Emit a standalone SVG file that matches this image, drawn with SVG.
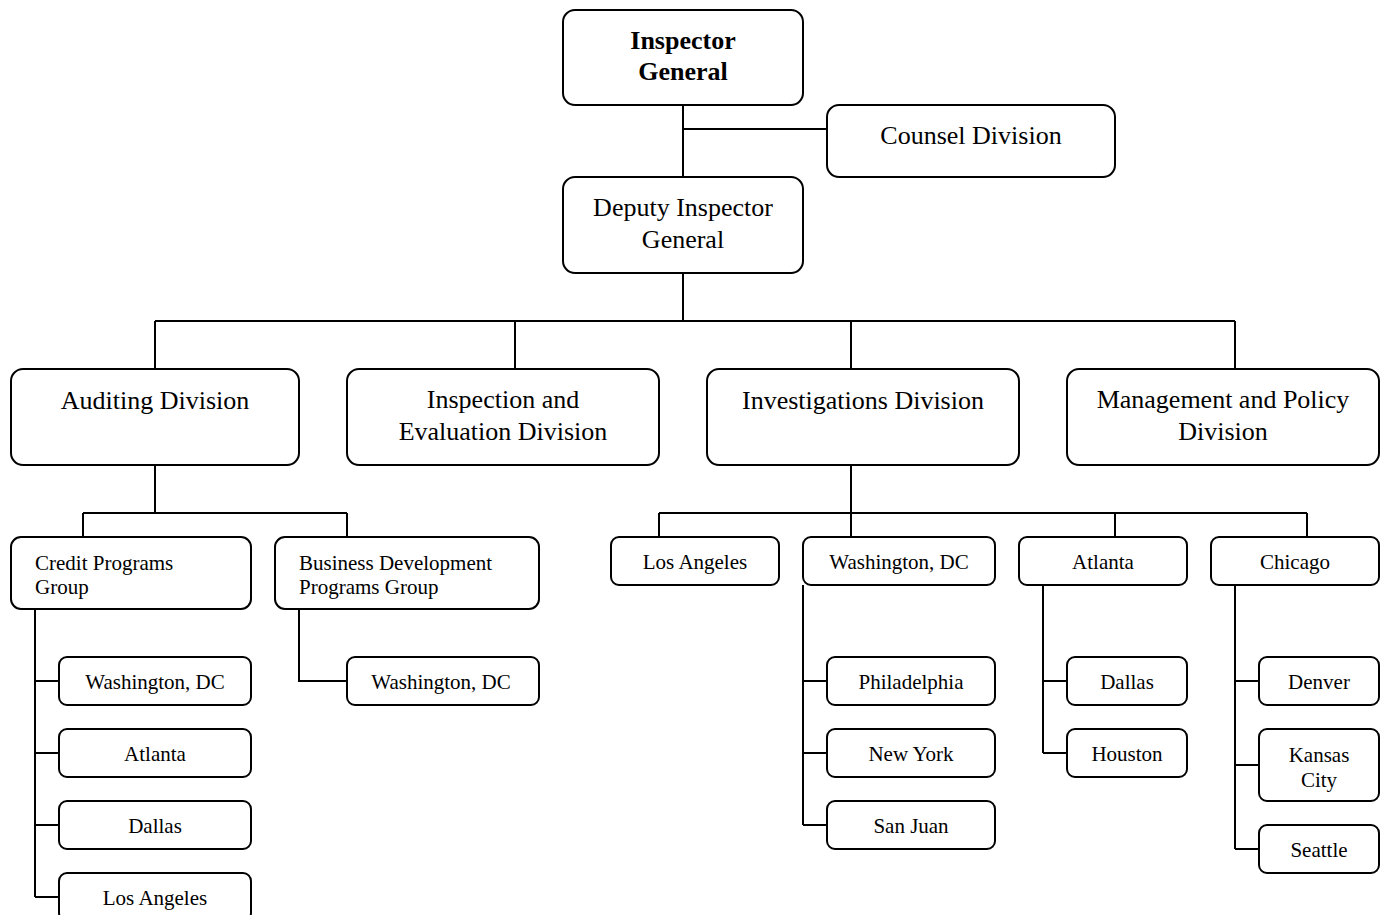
<svg xmlns="http://www.w3.org/2000/svg" width="1385" height="915" viewBox="0 0 1385 915">
<style>
.b{fill:#fff;stroke:#000;stroke-width:2}
.c{fill:none;stroke:#000;stroke-width:2}
text{font-family:"Liberation Serif","Times New Roman",serif;fill:#000}
.L{font-size:26px;text-anchor:middle}
.S{font-size:21px;text-anchor:middle}
.SL{font-size:21px}
.bold{font-weight:bold}
</style>
<rect width="1385" height="915" fill="#fff"/>
<g id="connectors">
<path class="c" d="M683 105V177M683 129H827M683 273V321M155 321H1235M155 321V369M515 321V369M851 321V369M1235 321V369"/>
<path class="c" d="M155 465V513M83 513H347M83 513V537M347 513V537"/>
<path class="c" d="M35 609V897M35 681H59M35 753H59M35 825H59M35 897H59"/>
<path class="c" d="M299 609V681H347"/>
<path class="c" d="M851 465V537M659 513H1307M659 513V537M1115 513V537M1307 513V537"/>
<path class="c" d="M803 585V825M803 681H827M803 753H827M803 825H827"/>
<path class="c" d="M1043 585V753M1043 681H1067M1043 753H1067"/>
<path class="c" d="M1235 585V849M1235 681H1259M1235 765H1259M1235 849H1259"/>
</g>
<g id="ig"><rect class="b" x="563" y="10" width="240" height="95" rx="12"/><text class="L bold" x="683" y="49">Inspector</text><text class="L bold" x="683" y="80">General</text></g>
<g id="counsel"><rect class="b" x="827" y="105" width="288" height="72" rx="12"/><text class="L" x="971" y="144">Counsel Division</text></g>
<g id="deputy"><rect class="b" x="563" y="177" width="240" height="96" rx="12"/><text class="L" x="683" y="216">Deputy Inspector</text><text class="L" x="683" y="248">General</text></g>
<g id="auditing"><rect class="b" x="11" y="369" width="288" height="96" rx="12"/><text class="L" x="155" y="409">Auditing Division</text></g>
<g id="inspection"><rect class="b" x="347" y="369" width="312" height="96" rx="12"/><text class="L" x="503" y="408">Inspection and</text><text class="L" x="503" y="440">Evaluation Division</text></g>
<g id="investigations"><rect class="b" x="707" y="369" width="312" height="96" rx="12"/><text class="L" x="863" y="409">Investigations Division</text></g>
<g id="management"><rect class="b" x="1067" y="369" width="312" height="96" rx="12"/><text class="L" x="1223" y="408">Management and Policy</text><text class="L" x="1223" y="440">Division</text></g>
<g id="credit"><rect class="b" x="11" y="537" width="240" height="72" rx="10"/><text class="SL" x="35" y="570">Credit Programs</text><text class="SL" x="35" y="594">Group</text></g>
<g id="business"><rect class="b" x="275" y="537" width="264" height="72" rx="10"/><text class="SL" x="299" y="570">Business Development</text><text class="SL" x="299" y="594">Programs Group</text></g>
<g id="cp-dc"><rect class="b" x="59" y="657" width="192" height="48" rx="8"/><text class="S" x="155" y="689">Washington, DC</text></g>
<g id="cp-atl"><rect class="b" x="59" y="729" width="192" height="48" rx="8"/><text class="S" x="155" y="761">Atlanta</text></g>
<g id="cp-dal"><rect class="b" x="59" y="801" width="192" height="48" rx="8"/><text class="S" x="155" y="833">Dallas</text></g>
<g id="cp-la"><rect class="b" x="59" y="873" width="192" height="48" rx="8"/><text class="S" x="155" y="905">Los Angeles</text></g>
<g id="bd-dc"><rect class="b" x="347" y="657" width="192" height="48" rx="8"/><text class="S" x="441" y="689">Washington, DC</text></g>
<g id="inv-la"><rect class="b" x="611" y="537" width="168" height="48" rx="8"/><text class="S" x="695" y="569">Los Angeles</text></g>
<g id="inv-dc"><rect class="b" x="803" y="537" width="192" height="48" rx="8"/><text class="S" x="899" y="569">Washington, DC</text></g>
<g id="inv-atl"><rect class="b" x="1019" y="537" width="168" height="48" rx="8"/><text class="S" x="1103" y="569">Atlanta</text></g>
<g id="inv-chi"><rect class="b" x="1211" y="537" width="168" height="48" rx="8"/><text class="S" x="1295" y="569">Chicago</text></g>
<g id="phl"><rect class="b" x="827" y="657" width="168" height="48" rx="8"/><text class="S" x="911" y="689">Philadelphia</text></g>
<g id="nyc"><rect class="b" x="827" y="729" width="168" height="48" rx="8"/><text class="S" x="911" y="761">New York</text></g>
<g id="sju"><rect class="b" x="827" y="801" width="168" height="48" rx="8"/><text class="S" x="911" y="833">San Juan</text></g>
<g id="inv-dal"><rect class="b" x="1067" y="657" width="120" height="48" rx="8"/><text class="S" x="1127" y="689">Dallas</text></g>
<g id="hou"><rect class="b" x="1067" y="729" width="120" height="48" rx="8"/><text class="S" x="1127" y="761">Houston</text></g>
<g id="den"><rect class="b" x="1259" y="657" width="120" height="48" rx="8"/><text class="S" x="1319" y="689">Denver</text></g>
<g id="kc"><rect class="b" x="1259" y="729" width="120" height="72" rx="8"/><text class="S" x="1319" y="762">Kansas</text><text class="S" x="1319" y="787">City</text></g>
<g id="sea"><rect class="b" x="1259" y="825" width="120" height="48" rx="8"/><text class="S" x="1319" y="857">Seattle</text></g>
</svg>
